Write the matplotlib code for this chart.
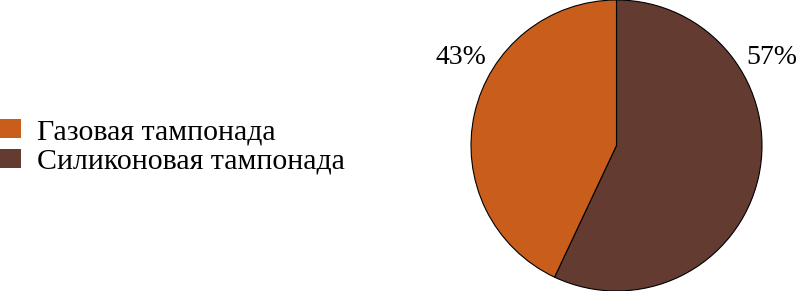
import matplotlib
matplotlib.use("Agg")
import matplotlib.pyplot as plt
from matplotlib.patches import Patch

categories = ["Силиконовая тампонада", "Газовая тампонада"]
shares = [57, 43]
colors = ["#633B30", "#C85D1C"]
pct_labels = ["57%", "43%"]
legend_order = [1, 0]

plt.rcParams["font.family"] = ["Liberation Serif", "DejaVu Serif"]

fig = plt.figure(figsize=(8, 2.91), dpi=100)
ax = fig.add_axes([470 / 800, 0.0, 293 / 800, 1.0])
wedges, _ = ax.pie(shares, colors=colors, startangle=90, counterclock=False,
                   radius=1.0, wedgeprops=dict(edgecolor="black", linewidth=0.8))
ax.set_xlim(-1.0, 1.0)
ax.set_ylim(-1.0, 1.0)

# percentage labels sit outside the pie near the top
ax.text(1.065, 0.605, pct_labels[0], fontsize=20, ha="center", va="center")
ax.text(-1.07, 0.605, pct_labels[1], fontsize=20, ha="center", va="center")

handles = [Patch(facecolor=colors[i], edgecolor="none", label=categories[i])
           for i in legend_order]
fig.legend(handles=handles, loc="center left", bbox_to_anchor=(0.0, 0.495),
           frameon=False, fontsize=21.5, handlelength=0.7, handleheight=0.62,
           handletextpad=0.55, labelspacing=0.12, borderpad=0.0,
           borderaxespad=0.0)

fig.savefig("out.png", dpi=100)
